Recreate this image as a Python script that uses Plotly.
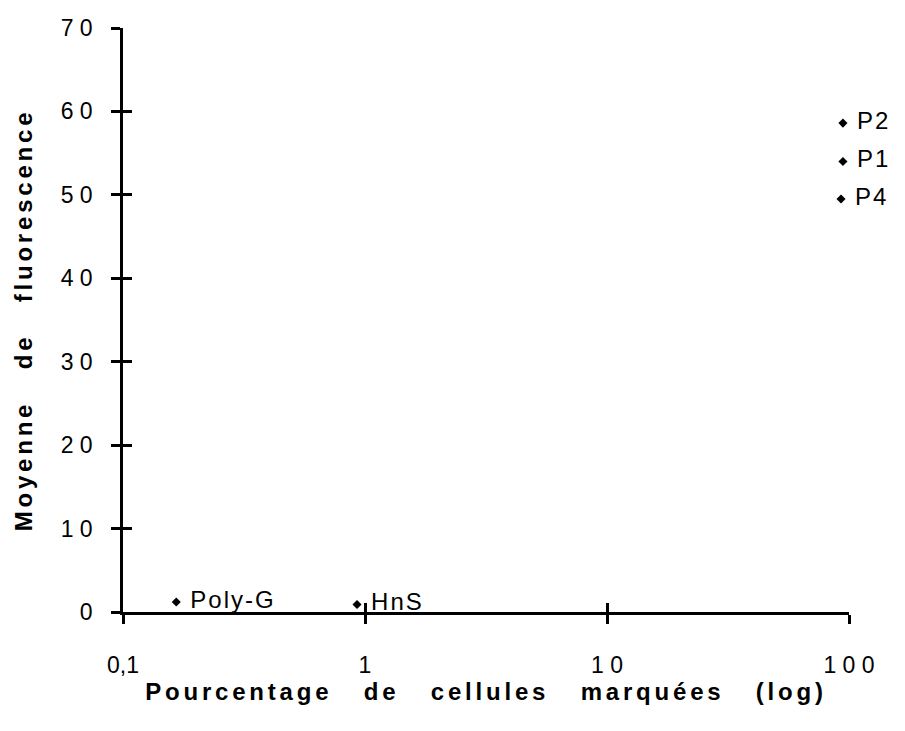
import plotly.graph_objects as go

# Percentage of labelled cells (log scale) vs mean fluorescence
names = ["P2", "P1", "P4", "Poly-G", "HnS"]
pct_cells = [94.4, 94.4, 92.7, 0.166, 0.927]
mean_fluo = [58.6, 54.0, 49.5, 1.2, 0.9]

y_ticks = [0, 10, 20, 30, 40, 50, 60, 70]
y_ticktext = ["0", "1 0", "2 0", "3 0", "4 0", "5 0", "6 0", "7 0"]
x_ticks = [0.1, 1, 10, 100]
x_ticktext = ["0,1", "1", "1 0", "1 0 0"]

x_title_words = ["Pourcentage", "de", "cellules", "marquées", "(log)"]
y_title_words = ["Moyenne", "de", "fluorescence"]

font_family = "Liberation Sans, Arial, sans-serif"
gap = "\u00a0\u00a0 "

fig = go.Figure()
fig.add_trace(go.Scatter(
    x=pct_cells, y=mean_fluo, mode="markers+text",
    text=[" " + n for n in names], textposition="middle right",
    textfont=dict(family=font_family, size=24, color="black"),
    marker=dict(symbol="diamond", size=7, color="black"),
    showlegend=False, cliponaxis=False,
))
# invisible trace carrying the inner half of the crossing ticks
fig.add_trace(go.Scatter(x=[0.1], y=[0], xaxis="x2", yaxis="y2",
                         mode="markers", marker=dict(opacity=0),
                         showlegend=False, hoverinfo="skip"))

tick_style = dict(showgrid=False, zeroline=False, tickcolor="black", tickwidth=2.5)

fig.update_layout(
    width=905, height=731,
    margin=dict(l=123, r=56, t=28, b=119),
    paper_bgcolor="white", plot_bgcolor="white",
    font=dict(family=font_family, size=23, color="black"),
    xaxis=dict(type="log", range=[-1, 2], showline=True,
               linecolor="black", linewidth=2.5,
               tickvals=x_ticks, ticktext=x_ticktext,
               tickfont=dict(size=23),
               ticks="outside", ticklen=9, ticklabelstandoff=22,
               title=dict(text="<b>" + gap.join(x_title_words) + "</b>",
                          font=dict(size=24), standoff=6),
               **tick_style),
    yaxis=dict(range=[0, 70], showline=True,
               linecolor="black", linewidth=2.5,
               tickvals=y_ticks, ticktext=y_ticktext,
               tickfont=dict(size=23),
               ticks="outside", ticklen=9, ticklabelstandoff=14,
               title=dict(text="<b>" + gap.join(y_title_words) + "</b>",
                          font=dict(size=24), standoff=22),
               **tick_style),
    xaxis2=dict(type="log", range=[-1, 2], overlaying="x", anchor="y2",
                tickvals=x_ticks, ticks="inside", ticklen=9,
                showticklabels=False, showline=False, **tick_style),
    yaxis2=dict(range=[0, 70], overlaying="y", anchor="x2",
                tickvals=y_ticks, ticks="inside", ticklen=9,
                showticklabels=False, showline=False, **tick_style),
)

# widen the letter spacing of the axis titles and point labels
spacing_js = """
var gd = document.getElementsByClassName('plotly-graph-div')[0];
function spaceText() {
  gd.querySelectorAll('.xtitle, .ytitle').forEach(function (t) {
    t.style.letterSpacing = '3.8px';
  });
  gd.querySelectorAll('.textpoint text').forEach(function (t) {
    t.style.letterSpacing = '2px';
  });
}
spaceText();
gd.on('plotly_afterplot', spaceText);
"""

fig.write_html("out.html", post_script=spacing_js)
